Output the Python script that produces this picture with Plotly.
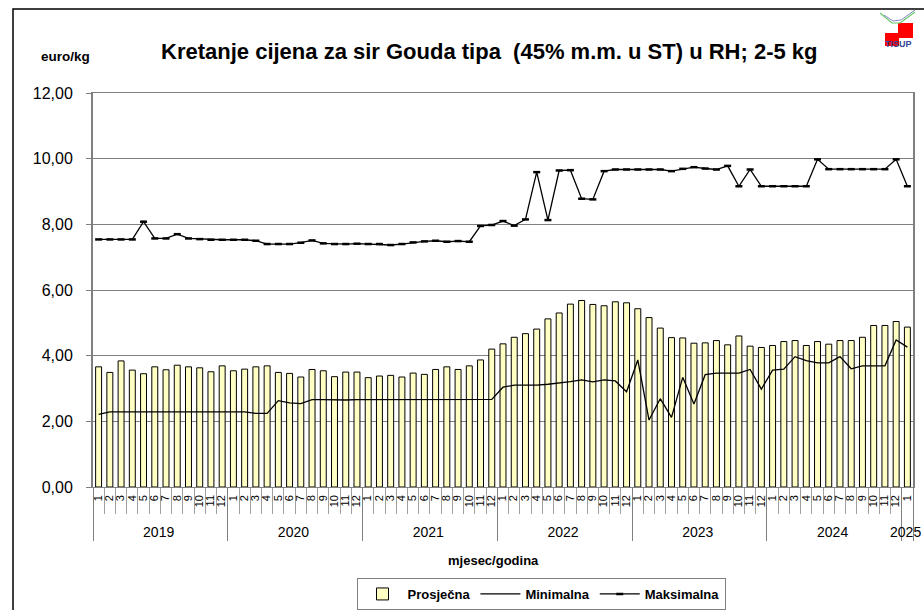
import plotly.graph_objects as go

years = ["2019", "2020", "2021", "2022", "2023", "2024", "2025"]
months_per_year = [12, 12, 12, 12, 12, 12, 1]

prosjecna = [
    3.66, 3.49, 3.84, 3.56, 3.45, 3.66, 3.57, 3.71, 3.66, 3.63, 3.51, 3.69,
    3.54, 3.59, 3.66, 3.69, 3.49, 3.46, 3.35, 3.58, 3.54, 3.36, 3.50, 3.50,
    3.33, 3.38, 3.40, 3.35, 3.47, 3.43, 3.58, 3.66, 3.58, 3.69, 3.87, 4.20,
    4.36, 4.56, 4.67, 4.81, 5.12, 5.30, 5.57, 5.68, 5.56, 5.52, 5.64, 5.61,
    5.43, 5.16, 4.84, 4.55, 4.54, 4.38, 4.39, 4.46, 4.33, 4.60, 4.29, 4.25,
    4.31, 4.43, 4.46, 4.31, 4.43, 4.35, 4.46, 4.46, 4.56, 4.92, 4.92, 5.04,
    4.87,
]
minimalna = [
    2.21, 2.29, 2.29, 2.29, 2.29, 2.29, 2.29, 2.29, 2.29, 2.28, 2.29, 2.29,
    2.29, 2.29, 2.24, 2.24, 2.63, 2.56, 2.54, 2.66, 2.66, 2.65, 2.65, 2.66,
    2.66, 2.66, 2.66, 2.66, 2.67, 2.67, 2.67, 2.68, 2.67, 2.67, 2.67, 2.67,
    3.04, 3.10, 3.10, 3.10, 3.13, 3.16, 3.21, 3.26, 3.20, 3.26, 3.23, 2.90,
    3.87, 2.04, 2.69, 2.12, 3.34, 2.53, 3.42, 3.47, 3.47, 3.47, 3.58, 2.98,
    3.56, 3.59, 3.97, 3.85, 3.78, 3.78, 3.97, 3.60, 3.69, 3.69, 3.69, 4.48,
    4.26,
]
maksimalna = [
    7.54, 7.54, 7.54, 7.54, 8.08, 7.57, 7.57, 7.70, 7.57, 7.55, 7.53, 7.53,
    7.53, 7.53, 7.50, 7.40, 7.40, 7.40, 7.44, 7.51, 7.42, 7.40, 7.40, 7.41,
    7.40, 7.40, 7.37, 7.40, 7.45, 7.48, 7.50, 7.47, 7.49, 7.47, 7.95, 7.98,
    8.10, 7.96, 8.15, 9.59, 8.13, 9.64, 9.65, 8.78, 8.76, 9.62, 9.67, 9.67,
    9.67, 9.67, 9.67, 9.62, 9.69, 9.74, 9.70, 9.67, 9.78, 9.16, 9.67, 9.16,
    9.16, 9.16, 9.16, 9.16, 9.98, 9.68, 9.68, 9.68, 9.68, 9.68, 9.68, 9.98,
    9.16,
]

year_col = []
month_col = []
for y, n in zip(years, months_per_year):
    for m in range(1, n + 1):
        year_col.append("<br><span style='font-size:14px'>" + y + "</span>")
        month_col.append("<span style='font-size:11px'>" + str(m) + "</span>")
xcat = [year_col, month_col]

FONT = "Liberation Sans, Arial, sans-serif"

fig = go.Figure()
fig.add_trace(go.Bar(
    x=xcat, y=prosjecna, name="Prosječna",
    marker=dict(color="#FFFFC4", line=dict(color="#000000", width=1)),
))
fig.add_trace(go.Scatter(
    x=xcat, y=minimalna, name="Minimalna", mode="lines",
    line=dict(color="#000000", width=1.3),
))
fig.add_trace(go.Scatter(
    x=xcat, y=maksimalna, name="Maksimalna", mode="lines+markers",
    line=dict(color="#000000", width=1.3),
    marker=dict(symbol="line-ew", size=5, color="#000000",
                line=dict(color="#000000", width=2.5)),
))

L, R, T, B = 93, 11, 93, 123
W, H = 924, 610
pw, ph = W - L - R, H - T - B

def px(xp):
    return (xp - L) / pw

def py(yp):
    return (H - B - yp) / ph

shapes = [
    dict(type="rect", xref="paper", yref="paper", x0=px(13), x1=px(940),
         y0=py(625), y1=py(9), line=dict(color="#000000", width=1.5), layer="below"),
    dict(type="rect", xref="paper", yref="paper", x0=px(898), x1=px(913),
         y0=py(38), y1=py(23), fillcolor="#FF0000", line=dict(width=0)),
    dict(type="rect", xref="paper", yref="paper", x0=px(885), x1=px(899),
         y0=py(46), y1=py(33), fillcolor="#FF0000", line=dict(width=0)),
    dict(type="path", xref="paper", yref="paper",
         path=f"M {px(880)} {py(13)} L {px(892)} {py(23)} L {px(900)} {py(23)} L {px(915)} {py(12)}",
         line=dict(color="#66CC66", width=1.2)),
    dict(type="path", xref="paper", yref="paper",
         path=f"M {px(884)} {py(15)} L {px(893)} {py(21)} L {px(901)} {py(20)} L {px(915)} {py(10)}",
         line=dict(color="#8888CC", width=1)),
]

annotations = [
    dict(text="<b>Kretanje cijena za sir Gouda tipa  (45% m.m. u ST) u RH; 2-5 kg</b>",
         xref="paper", yref="paper", x=px(489), y=py(51), xanchor="center", yanchor="middle",
         showarrow=False, font=dict(family=FONT, size=22, color="#000000")),
    dict(text="<b>euro/kg</b>", xref="paper", yref="paper", x=px(65), y=py(56),
         xanchor="center", yanchor="middle", showarrow=False,
         font=dict(family=FONT, size=13.5, color="#000000")),
    dict(text="<b>mjesec/godina</b>", xref="paper", yref="paper", x=px(493), y=py(560),
         xanchor="center", yanchor="middle", showarrow=False,
         font=dict(family=FONT, size=13, color="#000000")),
    dict(text="<b>TISUP</b>", xref="paper", yref="paper", x=px(898), y=py(44),
         xanchor="center", yanchor="middle", showarrow=False,
         font=dict(family=FONT, size=9, color="#334499")),
]

fig.update_layout(
    width=W, height=H,
    margin=dict(l=L, r=R, t=T, b=B, autoexpand=False),
    paper_bgcolor="#FFFFFF", plot_bgcolor="#FFFFFF",
    separators=",.",
    bargap=0.47,
    showlegend=True,
    legend=dict(orientation="h", x=px(541), y=py(578), xanchor="center", yanchor="top",
                bordercolor="#808080", borderwidth=1, bgcolor="#FFFFFF",
                font=dict(family=FONT, size=13, color="#000000", weight="bold"),
                itemwidth=40, traceorder="normal"),
    shapes=shapes,
    annotations=annotations,
    font=dict(family=FONT, color="#000000"),
)

fig.update_yaxes(
    range=[0, 12], dtick=2, tickformat=".2f",
    showgrid=True, gridcolor="#808080", gridwidth=1,
    showline=True, linecolor="#808080", linewidth=2, mirror=True,
    ticks="outside", ticklen=5, tickcolor="#808080",
    ticklabelstandoff=10,
    tickfont=dict(family=FONT, size=16, color="#000000"),
    zeroline=False,
)
fig.update_xaxes(
    type="multicategory",
    range=[-0.5, 72.5], autorange=False,
    tickmode="linear", dtick=1, tick0=0,
    showline=True, linecolor="#808080", linewidth=1, mirror=True,
    ticks="outside", ticklen=26, tickcolor="#A0A0A0", tickson="boundaries",
    showdividers=True, dividercolor="#808080", dividerwidth=1,
    tickangle=-90,
    ticklabelstandoff=3,
    tickfont=dict(family=FONT, size=10, color="#000000"),
    showgrid=False,
)

fig.write_html("out.html", config={"displayModeBar": False},
               post_script="document.body.style.margin='0';")
